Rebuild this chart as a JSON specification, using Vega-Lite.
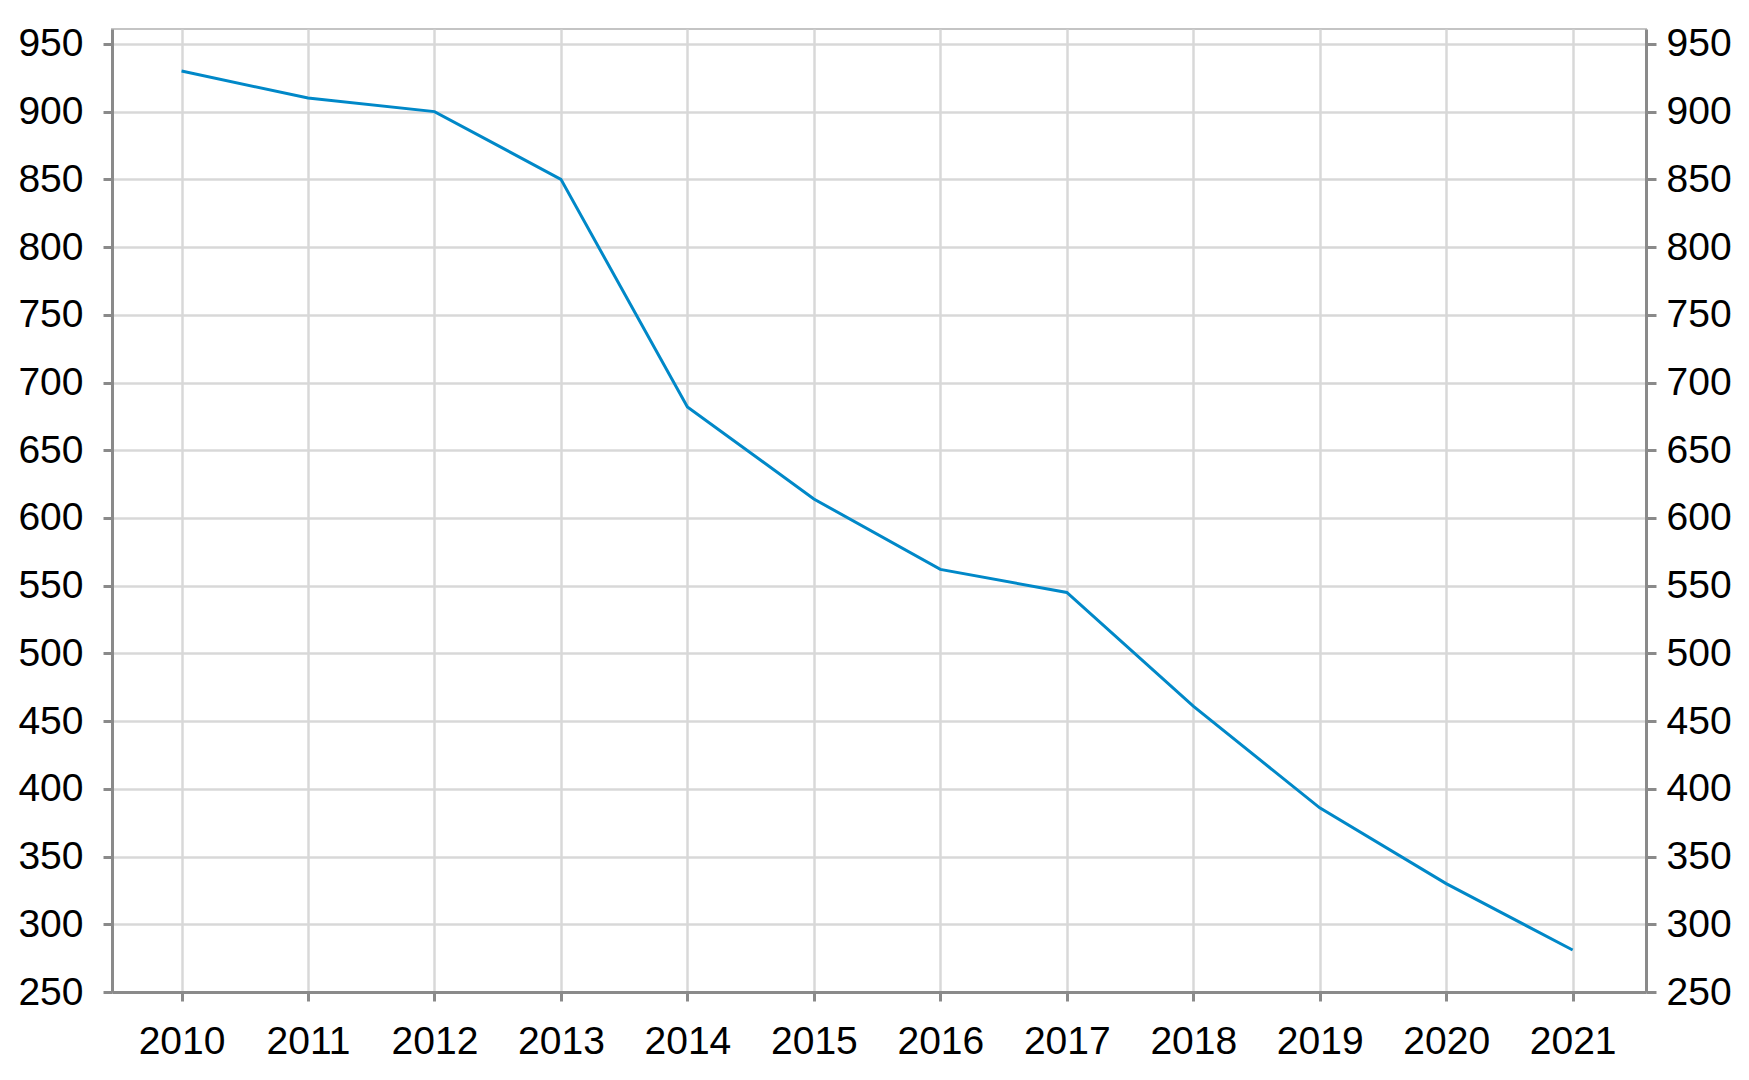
{
  "$schema": "https://vega.github.io/schema/vega-lite/v6.json",
  "width": 1534,
  "height": 963,
  "autosize": {"type": "none"},
  "padding": {"left": 112, "top": 29, "right": 103, "bottom": 88},
  "background": "white",
  "config": {
    "view": {"stroke": "#c4c4c4", "strokeWidth": 2},
    "axis": {
      "labelFont": "Liberation Sans",
      "labelFontSize": 39,
      "labelColor": "#000000",
      "domainColor": "#8a8a8a",
      "domainWidth": 3,
      "tickColor": "#8a8a8a",
      "tickWidth": 3,
      "tickSize": 9,
      "gridColor": "#d8d8d8",
      "gridWidth": 2.5,
      "gridOpacity": 1,
      "title": null
    }
  },
  "data": {
    "values": [
      {"year": 2010, "value": 930},
      {"year": 2011, "value": 910},
      {"year": 2012, "value": 900},
      {"year": 2013, "value": 850},
      {"year": 2014, "value": 682},
      {"year": 2015, "value": 614},
      {"year": 2016, "value": 562},
      {"year": 2017, "value": 545},
      {"year": 2018, "value": 461},
      {"year": 2019, "value": 386},
      {"year": 2020, "value": 330},
      {"year": 2021, "value": 281}
    ]
  },
  "layer": [
    {
      "mark": {"type": "line", "color": "#0088c8", "strokeWidth": 3},
      "encoding": {
        "x": {
          "field": "year",
          "type": "quantitative",
          "scale": {"domain": [2009.45, 2021.58], "nice": false, "zero": false},
          "axis": {
            "values": [2010, 2011, 2012, 2013, 2014, 2015, 2016, 2017, 2018, 2019, 2020, 2021],
            "format": "d",
            "labelPadding": 21,
            "grid": true,
            "labelFlush": false,
            "labelOverlap": false
          }
        },
        "y": {
          "field": "value",
          "type": "quantitative",
          "scale": {"domain": [250, 961], "nice": false, "zero": false},
          "axis": {
            "orient": "left",
            "values": [250, 300, 350, 400, 450, 500, 550, 600, 650, 700, 750, 800, 850, 900, 950],
            "labelPadding": 20,
            "grid": true,
            "labelFlush": false,
            "labelOverlap": false
          }
        }
      }
    },
    {
      "mark": {"type": "line", "strokeOpacity": 0},
      "encoding": {
        "x": {"field": "year", "type": "quantitative"},
        "y": {
          "field": "value",
          "type": "quantitative",
          "axis": {
            "orient": "right",
            "values": [250, 300, 350, 400, 450, 500, 550, 600, 650, 700, 750, 800, 850, 900, 950],
            "labelPadding": 10,
            "tickSize": 10,
            "grid": false,
            "labelFlush": false,
            "labelOverlap": false
          }
        }
      }
    }
  ],
  "resolve": {"axis": {"y": "independent"}}
}
